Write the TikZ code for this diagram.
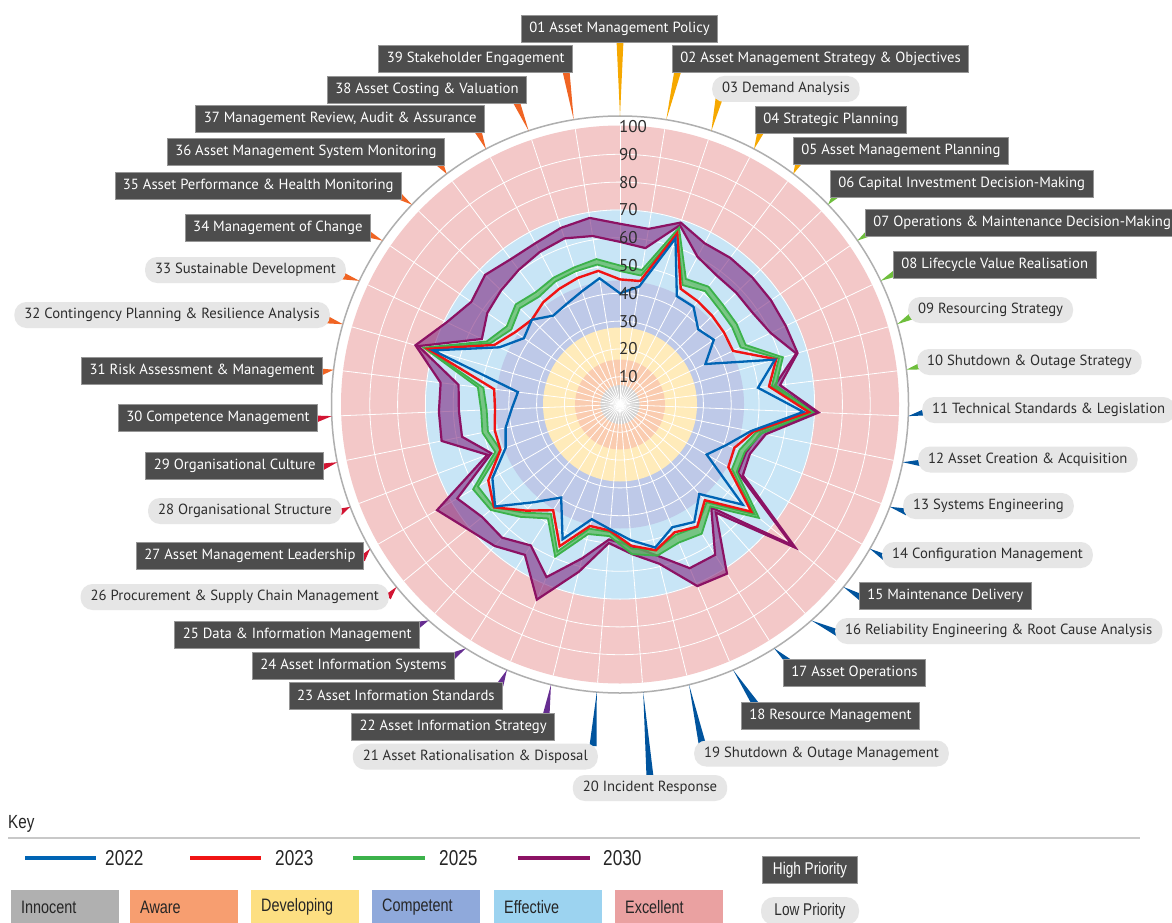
\documentclass[tikz,border=0pt]{standalone}
\usepackage{fontspec}
\setmainfont{PT Sans}
\newfontfamily\keyfont[FakeStretch=0.8]{Liberation Sans}
\usetikzlibrary{calc}
\definecolor{cExc}{RGB}{243,200,200}
\definecolor{cEff}{RGB}{200,229,246}
\definecolor{cCom}{RGB}{190,201,232}
\definecolor{cDev}{RGB}{255,235,186}
\definecolor{cAwa}{RGB}{250,204,176}
\definecolor{cInn}{RGB}{208,208,208}
\definecolor{cRing}{RGB}{175,175,175}
\definecolor{kInn}{RGB}{176,176,176}
\definecolor{kAwa}{RGB}{247,158,112}
\definecolor{kDev}{RGB}{253,223,130}
\definecolor{kCom}{RGB}{143,169,219}
\definecolor{kEff}{RGB}{156,211,240}
\definecolor{kExc}{RGB}{234,161,161}
\definecolor{sBlue}{RGB}{0,100,180}
\definecolor{sRed}{RGB}{240,20,20}
\definecolor{sGreen}{RGB}{60,178,75}
\definecolor{fGreen}{RGB}{90,185,95}
\definecolor{sPurp}{RGB}{140,18,100}
\definecolor{fPurp}{RGB}{128,40,128}
\definecolor{hiFill}{RGB}{77,77,77}
\definecolor{hiLine}{RGB}{150,150,150}
\definecolor{loFill}{RGB}{230,230,230}
\definecolor{txtDark}{RGB}{45,45,45}
\definecolor{tAmber}{RGB}{246,168,0}
\definecolor{tGreen}{RGB}{110,190,60}
\definecolor{tBlue}{RGB}{0,84,158}
\definecolor{tPurp}{RGB}{102,45,145}
\definecolor{tRed}{RGB}{210,20,50}
\definecolor{tOrange}{RGB}{240,100,35}
\definecolor{sepGrey}{RGB}{200,200,200}
\newcommand\radcx{620}
\newcommand\radcy{404.5}
\newcommand\radsc{2.78}
\newcommand\mkpts[2]{\foreach \v [count=\i] in {#2}{\coordinate (#1\i) at ({\radcx+\radsc*\v*cos(90-(\i-1)*360/39)},{\radcy-\radsc*\v*sin(90-(\i-1)*360/39)});}}
\newcommand\poly[1]{(#11) \foreach \j in {2,...,39}{ -- (#1\j)} -- cycle}
\newcommand\tickw[3]{\coordinate (t#1) at ({\radcx+288.5*cos(90-(#1-1)*360/39)},{\radcy-288.5*sin(90-(#1-1)*360/39)});
  \coordinate (a#1) at (#3);
  \fill[#2] (t#1) -- ($(a#1)!3.5pt!90:(t#1)$) -- ($(a#1)!3.5pt!-90:(t#1)$) -- cycle;}
\newcommand\lblfont{\fontsize{14.7}{16}\selectfont}
\begin{document}
\begin{tikzpicture}[x=1pt,y=-1pt,
  hi/.style={rectangle, fill=hiFill, draw=hiLine, line width=0.8pt, text=white, minimum height=27pt, inner xsep=8pt, inner ysep=0pt, font=\lblfont},
  lo/.style={rectangle, fill=loFill, rounded corners=12pt, text=txtDark, minimum height=26pt, inner xsep=10pt, inner ysep=0pt, font=\lblfont},
  purl/.style={draw=sPurp, line width=2.2pt},
  grnl/.style={draw=sGreen, line width=1.8pt},
  redl/.style={draw=sRed, line width=2.4pt},
  blul/.style={draw=sBlue, line width=2.3pt},
  keybox/.style={anchor=north west, text width=88pt, inner xsep=10pt, minimum height=34pt, align=left, text=black!85, font=\keyfont\fontsize{18}{20}\selectfont},
  yeartxt/.style={anchor=west, inner sep=0pt, text=black!85, font=\keyfont\fontsize{21.5}{22}\selectfont}]
\useasboundingbox (0,0) rectangle (1172,923);
\fill[white] (0,0) rectangle (1172,923);
\coordinate (C) at (\radcx,\radcy);
% background bands
\fill[cExc] (C) circle[radius=279pt];
\fill[cEff] (C) circle[radius=195pt];
\fill[cCom] (C) circle[radius=124pt];
\fill[cDev] (C) circle[radius=77pt];
\fill[cAwa] (C) circle[radius=45pt];
\fill[cInn] (C) circle[radius=19.5pt];
\foreach \u in {1,...,9} \draw[white, line width=0.8pt] (C) circle[radius={\u*27.8pt}];
\foreach \k in {0,...,38} \draw[white, line width=0.8pt] (C) -- ($(C)+({279*cos(90-\k*360/39)},{-279*sin(90-\k*360/39)})$);
\fill[white] (C) circle[radius=2pt];
\draw[cRing, line width=1.5pt] (C) circle[radius=288.5pt];
% data
\mkpts{pl}{58.5,57,68,60,58,58,58,60,66,56,70.5,51.5,48.5,49,80,49.5,64,64,56,51,48.7,57,67.5,60,64,64,67.6,49.5,58,58,58.5,75.5,55,58,59.3,60.6,62,63,61.4}
\mkpts{ph}{65,64,69,65.5,66,66,66,66,66.5,58,71.5,53.5,50,51,81.5,52,72,71,59,54,50,62,76.3,64,68,70.8,76,51,65.5,65.2,65,76.6,69,65,67.3,65.4,65.5,67,68}
\mkpts{gl}{48,47,65,48.5,51,49.5,49,48,59.5,55,68.5,50,46,46.5,62.5,47,52,51,54,52,46,46,57.5,46.5,52,58.5,59,46,48.5,48,49.5,72.5,51.5,47.5,50,48.5,50,50.5,51}
\mkpts{gh}{50,49,67,51,53,51.5,51,50,61,56.5,69.5,52,48,48.5,64.5,49,55,54,56,54,47.5,48,59.5,48.5,54,60,61,48,50.5,50,51.5,73.5,53,49.5,52,50.5,51.5,52,53}
\mkpts{rd}{45,45,65,47,46.5,46,45.5,45,58.5,54,68,49,44,45,61,46,52,50,54,51,45.5,45,55.4,45,51,58.5,54.7,46,46,45,45.6,72,50,45.8,44,46,47,48,48.7}
\mkpts{bl}{40,43,63,44,44,39,41,34,58,50,66,48,41,36,57,43,50,48,53,49,45,42.5,52.7,39.6,47,58,53,44,42,39,37,70,48,42,44,40,41,43,46}
\fill[fPurp, opacity=0.6, even odd rule] \poly{ph} \poly{pl};
\draw[purl] \poly{ph};
\draw[purl] \poly{pl};
\fill[fGreen, opacity=0.75, even odd rule] \poly{gh} \poly{gl};
\draw[grnl] \poly{gh};
\draw[grnl] \poly{gl};
\draw[redl] \poly{rd};
\draw[blul] \poly{bl};
% scale numbers
\foreach \u in {1,...,10} \node[anchor=west, inner sep=0pt, text=txtDark, font=\fontsize{17}{18}\selectfont] (sc\u) at (619,{\radcy-27.8*\u}) {\the\numexpr\u*10\relax};
% ticks
\tickw{1}{tAmber}{620,40}
\tickw{2}{tAmber}{678,70}
\tickw{3}{tAmber}{719,99}
\tickw{4}{tAmber}{761,131}
\tickw{5}{tAmber}{799,162}
\tickw{6}{tGreen}{836,195}
\tickw{7}{tGreen}{869,233}
\tickw{8}{tGreen}{896,273}
\tickw{9}{tGreen}{912,316}
\tickw{10}{tGreen}{921,366}
\tickw{11}{tBlue}{926,412}
\tickw{12}{tBlue}{922,463}
\tickw{13}{tBlue}{907,512}
\tickw{14}{tBlue}{886,558}
\tickw{15}{tBlue}{862,598}
\tickw{16}{tBlue}{838,633}
\tickw{17}{tBlue}{790,663}
\tickw{18}{tBlue}{756,705}
\tickw{19}{tBlue}{702,743}
\tickw{20}{tBlue}{650,777}
\tickw{21}{tBlue}{593,746}
\tickw{22}{tPurp}{546,716}
\tickw{23}{tPurp}{500,685}
\tickw{24}{tPurp}{453,656}
\tickw{25}{tPurp}{418,625}
\tickw{26}{tRed}{388,597}
\tickw{27}{tRed}{362,559}
\tickw{28}{tRed}{340,512}
\tickw{29}{tRed}{322,467}
\tickw{30}{tRed}{316,419}
\tickw{31}{tOrange}{321,372}
\tickw{32}{tOrange}{328,320}
\tickw{33}{tOrange}{343,276}
\tickw{34}{tOrange}{368,234}
\tickw{35}{tOrange}{399,196}
\tickw{36}{tOrange}{440,164}
\tickw{37}{tOrange}{478,131}
\tickw{38}{tOrange}{516,101}
\tickw{39}{tOrange}{566,71}
% labels
\node[hi, anchor=center] (l1) at (619.5,28.5) {01 Asset Management Policy};
\node[hi, anchor=west] (l2) at (672,58.5) {02 Asset Management Strategy \& Objectives};
\node[lo, anchor=west] (l3) at (712,89) {03 Demand Analysis};
\node[hi, anchor=west] (l4) at (755,120) {04 Strategic Planning};
\node[hi, anchor=west] (l5) at (793,151) {05 Asset Management Planning};
\node[hi, anchor=west] (l6) at (830,183.5) {06 Capital Investment Decision-Making};
\node[hi, anchor=west] (l7) at (865,222.5) {07 Operations \& Maintenance Decision-Making};
\node[hi, anchor=west] (l8) at (893,264.5) {08 Lifecycle Value Realisation};
\node[lo, anchor=west] (l9) at (908,310) {09 Resourcing Strategy};
\node[lo, anchor=west] (l10) at (917,362) {10 Shutdown \& Outage Strategy};
\node[lo, anchor=west] (l11) at (922,410) {11 Technical Standards \& Legislation};
\node[lo, anchor=west] (l12) at (918,459.5) {12 Asset Creation \& Acquisition};
\node[lo, anchor=west] (l13) at (903,506) {13 Systems Engineering};
\node[lo, anchor=west] (l14) at (882,555) {14 Configuration Management};
\node[hi, anchor=west] (l15) at (859,595.5) {15 Maintenance Delivery};
\node[lo, anchor=west] (l16) at (835,631) {16 Reliability Engineering \& Root Cause Analysis};
\node[hi, anchor=west] (l17) at (783,673) {17 Asset Operations};
\node[hi, anchor=west] (l18) at (741,715.5) {18 Resource Management};
\node[lo, anchor=west] (l19) at (694,753.5) {19 Shutdown \& Outage Management};
\node[lo, anchor=center] (l20) at (650,788) {20 Incident Response};
\node[lo, anchor=east] (l21) at (598,756.5) {21 Asset Rationalisation \& Disposal};
\node[hi, anchor=east] (l22) at (555,726.5) {22 Asset Information Strategy};
\node[hi, anchor=east] (l23) at (503,695.5) {23 Asset Information Standards};
\node[hi, anchor=east] (l24) at (455,665.5) {24 Asset Information Systems};
\node[hi, anchor=east] (l25) at (420,634.5) {25 Data \& Information Management};
\node[lo, anchor=east] (l26) at (389,597) {26 Procurement \& Supply Chain Management};
\node[hi, anchor=east] (l27) at (364,555.5) {27 Asset Management Leadership};
\node[lo, anchor=east] (l28) at (342,511) {28 Organisational Structure};
\node[hi, anchor=east] (l29) at (324,465.5) {29 Organisational Culture};
\node[hi, anchor=east] (l30) at (318,418) {30 Competence Management};
\node[hi, anchor=east] (l31) at (323,370.5) {31 Risk Assessment \& Management};
\node[lo, anchor=east] (l32) at (330,315) {32 Contingency Planning \& Resilience Analysis};
\node[lo, anchor=east] (l33) at (346,270) {33 Sustainable Development};
\node[hi, anchor=east] (l34) at (371,228) {34 Management of Change};
\node[hi, anchor=east] (l35) at (402,186) {35 Asset Performance \& Health Monitoring};
\node[hi, anchor=east] (l36) at (445,152) {36 Asset Management System Monitoring};
\node[hi, anchor=east] (l37) at (485,119) {37 Management Review, Audit \& Assurance};
\node[hi, anchor=east] (l38) at (527,89.5) {38 Asset Costing \& Valuation};
\node[hi, anchor=east] (l39) at (573,59) {39 Stakeholder Engagement};
% key
\node[anchor=west, inner sep=0pt, text=black!85, font=\keyfont\fontsize{19}{20}\selectfont] (key) at (8,824) {Key};
\coordinate (sepL) at (8,838);
\coordinate (sepR) at (1140,838);
\draw[sepGrey, line width=1.5pt] (sepL) -- (sepR);
\coordinate (k1a) at (25,858); \coordinate (k1b) at (96,858);
\coordinate (k2a) at (190,858); \coordinate (k2b) at (261,858);
\coordinate (k3a) at (353,858); \coordinate (k3b) at (425,858);
\coordinate (k4a) at (518,858); \coordinate (k4b) at (590,858);
\draw[sBlue, line width=3.2pt] (k1a) -- (k1b);
\draw[sRed, line width=3.2pt] (k2a) -- (k2b);
\draw[sGreen, line width=3.2pt] (k3a) -- (k3b);
\draw[sPurp, line width=3.2pt] (k4a) -- (k4b);
\node[yeartxt] (y1) at (105,858) {2022};
\node[yeartxt] (y2) at (275,858) {2023};
\node[yeartxt] (y3) at (439,858) {2025};
\node[yeartxt] (y4) at (603,858) {2030};
\node[keybox, fill=kInn] (kb1) at (11,890) {Innocent};
\node[keybox, fill=kAwa] (kb2) at (130,890) {Aware};
\node[keybox, fill=kDev] (kb3) at (251,890) {Developing};
\node[keybox, fill=kCom] (kb4) at (372,890) {Competent};
\node[keybox, fill=kEff] (kb5) at (494,890) {Effective};
\node[keybox, fill=kExc] (kb6) at (615,890) {Excellent};
\node[hi, font=\keyfont\fontsize{17}{18}\selectfont, minimum width=95pt, inner xsep=4pt] (hp) at (810,870) {High Priority};
\node[lo, font=\keyfont\fontsize{17}{18}\selectfont, minimum width=98pt, inner xsep=4pt, rounded corners=13pt, minimum height=28pt] (lp) at (810,911) {Low Priority};
\end{tikzpicture}
\end{document}
